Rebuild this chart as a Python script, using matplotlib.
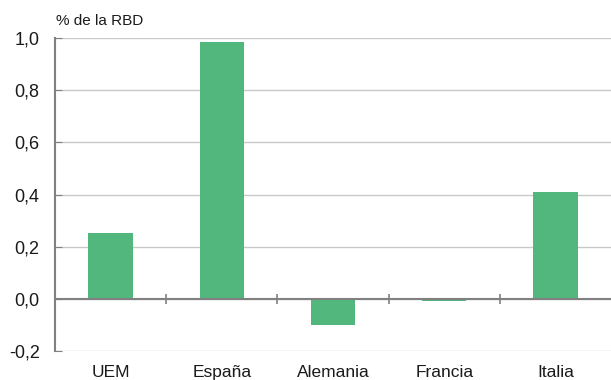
import matplotlib.pyplot as plt
import numpy as np

plt.rcParams['font.family'] = ['Liberation Sans', 'DejaVu Sans']

paises = ['UEM', 'España', 'Alemania', 'Francia', 'Italia']
valores = [0.253, 0.985, -0.10, -0.01, 0.41]
yticks = [-0.2, 0.0, 0.2, 0.4, 0.6, 0.8, 1.0]
ytick_labels = ['-0,2', '0,0', '0,2', '0,4', '0,6', '0,8', '1,0']

fig = plt.figure(figsize=(6.11, 3.8), dpi=100)
ax = fig.add_axes([0.09, 0.0763, 0.91, 0.8237])

x = np.arange(len(paises))
ax.bar(x, valores, width=0.4, color='#52b77d', zorder=3)

ax.set_ylim(-0.2, 1.0)
ax.set_xlim(-0.5, len(paises) - 0.5)
ax.set_yticks(yticks)
ax.set_yticklabels(ytick_labels, fontsize=13, color='#1a1a1a')
ax.grid(axis='y', color='#c8c8c8', linewidth=1, zorder=0)
ax.tick_params(axis='y', direction='in', length=5, color='#808080', pad=11)

ax.set_xticks(x)
ax.set_xticklabels(paises, fontsize=12.5, color='#1a1a1a')
ax.tick_params(axis='x', length=0, pad=10)

for s in ['top', 'right', 'bottom']:
    ax.spines[s].set_visible(False)
ax.spines['left'].set_color('#808080')
ax.spines['left'].set_linewidth(1.5)

# linea de cero con marcas entre categorias
ax.axhline(0, color='#808080', linewidth=1.5, zorder=4)
ax.vlines(x[:-1] + 0.5, -0.02, 0.02, color='#808080', linewidth=1.2, zorder=4)

fig.text(0.092, 0.935, '% de la RBD', fontsize=11, color='#1a1a1a')

fig.savefig('out.png', dpi=100)
